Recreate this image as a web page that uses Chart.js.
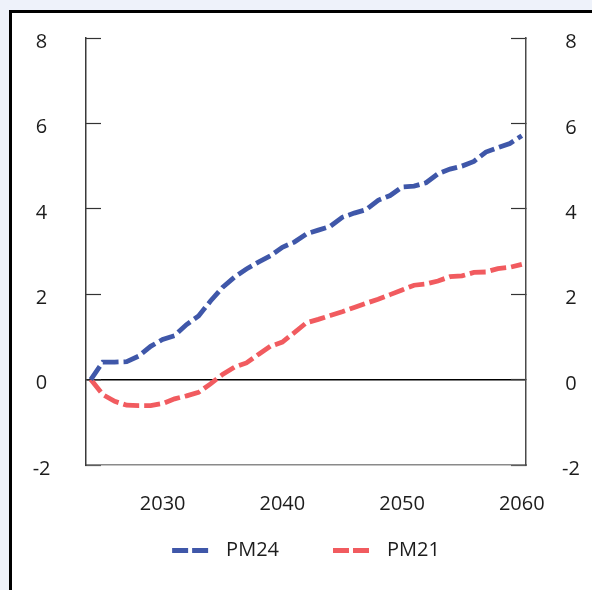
<!DOCTYPE html>
<html>
<head>
<meta charset="utf-8">
<script src="https://cdn.jsdelivr.net/npm/chart.js@4/dist/chart.umd.min.js"></script>
<style>
  html, body { margin: 0; padding: 0; width: 592px; height: 590px; overflow: hidden; background: #eef2fa; }
  #frame { position: absolute; left: 9px; top: 10px; width: 800px; height: 800px; border: 3px solid #000; background: #fff; }
  #c { position: absolute; left: 0; top: 0; }
</style>
</head>
<body>
<div id="frame"></div>
<canvas id="c" width="592" height="590"></canvas>
<script>
// ---- data ----
const years = [2024, 2025, 2026, 2027, 2028, 2029, 2030, 2031, 2032, 2033, 2034, 2035, 2036, 2037, 2038, 2039, 2040, 2041, 2042, 2043, 2044, 2045, 2046, 2047, 2048, 2049, 2050, 2051, 2052, 2053, 2054, 2055, 2056, 2057, 2058, 2059, 2060];
const pm24 = [0, 0.41, 0.41, 0.42, 0.55, 0.78, 0.94, 1.03, 1.29, 1.49, 1.84, 2.16, 2.40, 2.59, 2.75, 2.90, 3.10, 3.22, 3.41, 3.50, 3.59, 3.80, 3.90, 3.98, 4.20, 4.31, 4.51, 4.53, 4.61, 4.82, 4.93, 5.00, 5.11, 5.33, 5.43, 5.53, 5.71];
const pm21 = [0, -0.35, -0.51, -0.60, -0.61, -0.61, -0.56, -0.45, -0.38, -0.30, -0.10, 0.12, 0.29, 0.39, 0.59, 0.78, 0.88, 1.10, 1.33, 1.41, 1.50, 1.59, 1.69, 1.79, 1.88, 1.99, 2.10, 2.21, 2.24, 2.31, 2.41, 2.43, 2.51, 2.52, 2.60, 2.63, 2.70];
const seriesNames = ['PM24', 'PM21'];
const xTickValues = [2030, 2040, 2050, 2060];
const yTickValues = [-2, 0, 2, 4, 6, 8];

const BLUE = '#3f57a9';
const RED = '#f15b5f';
const FONT = '"Open Sans", "Noto Sans", sans-serif';

function swatch(color) {
  const c = document.createElement('canvas');
  c.width = 88; c.height = 5;
  const g = c.getContext('2d');
  g.fillStyle = color;
  g.fillRect(44, 0, 16, 5);
  g.fillRect(64, 0, 16, 5);
  return c;
}
const swatches = [swatch(BLUE), swatch(RED)];

const yTickCommon = {
  min: -2, max: 8,
  afterBuildTicks: s => { s.ticks = yTickValues.map(v => ({ value: v })); },
};

new Chart(document.getElementById('c'), {
  type: 'line',
  data: {
    datasets: [
      { label: seriesNames[0], data: years.map((y, i) => ({ x: y, y: pm24[i] })), borderColor: BLUE, backgroundColor: BLUE,
        borderWidth: 4.8, borderDash: [16, 5], pointRadius: 0, tension: 0, fill: false, yAxisID: 'y' },
      { label: seriesNames[1], data: years.map((y, i) => ({ x: y, y: pm21[i] })), borderColor: RED, backgroundColor: RED,
        borderWidth: 4.8, borderDash: [16, 5], pointRadius: 0, tension: 0, fill: false, yAxisID: 'y' }
    ]
  },
  options: {
    responsive: false,
    devicePixelRatio: 1,
    animation: false,
    events: [],
    layout: { padding: { top: 38, right: 0, bottom: 19.5, left: -24 } },
    scales: {
      x: {
        type: 'linear', position: 'bottom', min: 2023.6, max: 2060.35,
        afterBuildTicks: s => { s.ticks = xTickValues.map(v => ({ value: v })); },
        afterFit: s => { s.height = 65.5; },
        grid: { display: false },
        border: { display: true, color: '#8a8a8a', width: 1.5 },
        ticks: { font: { family: FONT, size: 20 }, color: '#1c1c1c', padding: 19, maxRotation: 0, callback: v => String(v) }
      },
      y: Object.assign({}, yTickCommon, {
        type: 'linear', position: 'left',
        afterFit: s => { s.width = 110; s.paddingTop = 12; s.paddingBottom = 12; },
        grid: {
          drawOnChartArea: true,
          color: c => (c.tick && c.tick.value === 0) ? '#000' : 'rgba(0,0,0,0)',
          lineWidth: c => (c.tick && c.tick.value === 0) ? 1.5 : 1,
          tickColor: '#333', tickLength: -15, tickWidth: 1.2
        },
        border: { display: true, color: '#3a3a3a', width: 1.5 },
        ticks: { font: { family: FONT, size: 20 }, color: '#1c1c1c', padding: 50.5, crossAlign: 'center', labelOffset: 4 }
      }),
      y2: Object.assign({}, yTickCommon, {
        type: 'linear', position: 'right', display: true,
        afterFit: s => { s.width = 66; s.paddingTop = 12; s.paddingBottom = 12; },
        grid: { drawOnChartArea: false, tickColor: '#333', tickLength: -15, tickWidth: 1.2 },
        border: { display: true, color: '#4a4a4a', width: 1.5 },
        ticks: { font: { family: FONT, size: 20 }, color: '#1c1c1c', padding: 51, crossAlign: 'center', labelOffset: 4.5 }
      })
    },
    plugins: {
      tooltip: { enabled: false },
      legend: {
        display: true, position: 'bottom',
        labels: {
          usePointStyle: true, pointStyleWidth: 88, padding: 10,
          font: { family: FONT, size: 20 }, color: '#1c1c1c',
          generateLabels: chart => {
            const items = Chart.defaults.plugins.legend.labels.generateLabels(chart);
            items.forEach((it, i) => { it.pointStyle = swatches[i]; it.lineWidth = 0; });
            return items;
          }
        }
      }
    }
  }
});
</script>
</body>
</html>
